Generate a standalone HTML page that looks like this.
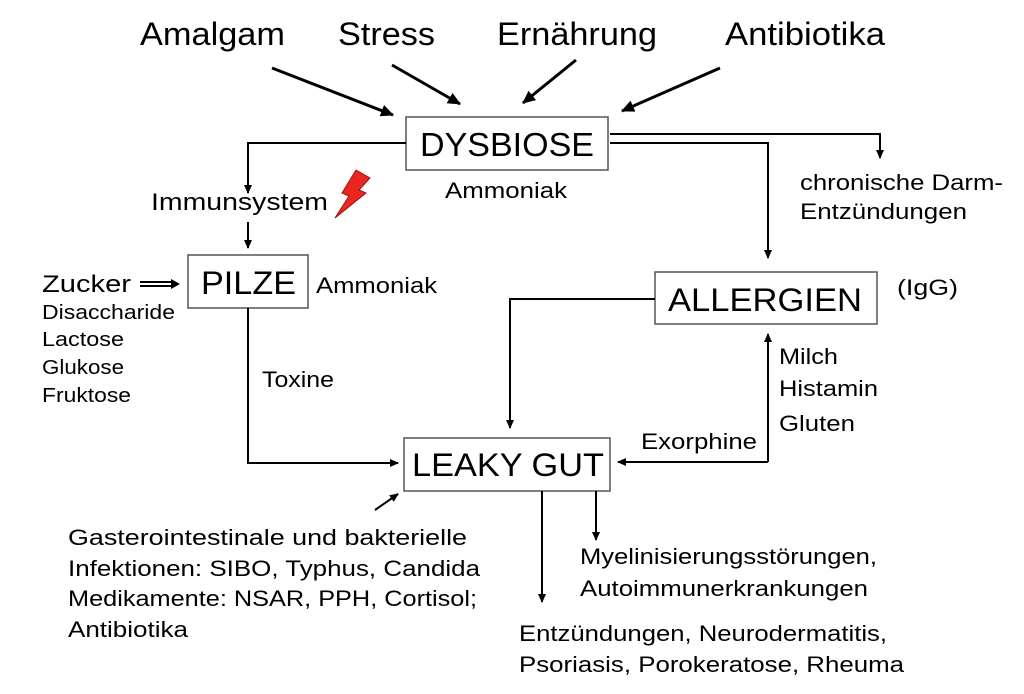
<!DOCTYPE html>
<html><head><meta charset="utf-8"><style>
html,body{margin:0;padding:0;background:#fff;}
svg{display:block;font-family:"Liberation Sans",Arial,sans-serif;}
</style></head><body>
<svg width="1024" height="694" viewBox="0 0 1024 694" xmlns="http://www.w3.org/2000/svg">
<defs>
<marker id="a" markerWidth="10" markerHeight="10" refX="8" refY="5" orient="auto" markerUnits="userSpaceOnUse">
<path d="M0,1 L9,5 L0,9 z" fill="#000"/></marker>
<marker id="b" markerWidth="14" markerHeight="14" refX="12" refY="7" orient="auto" markerUnits="userSpaceOnUse">
<path d="M0,1 L13,7 L0,13 z" fill="#000"/></marker>
</defs>
<g fill="#000" font-size="32" lengthAdjust="spacingAndGlyphs">
<text x="140" y="45" textLength="145" lengthAdjust="spacingAndGlyphs">Amalgam</text>
<text x="338" y="45" textLength="97" lengthAdjust="spacingAndGlyphs">Stress</text>
<text x="497" y="45" textLength="160" lengthAdjust="spacingAndGlyphs">Ernährung</text>
<text x="725" y="45" textLength="160" lengthAdjust="spacingAndGlyphs">Antibiotika</text>
</g>
<g stroke="#000" stroke-width="3" fill="none">
<line x1="272" y1="68" x2="393" y2="115" marker-end="url(#b)"/>
<line x1="392" y1="65" x2="460" y2="104" marker-end="url(#b)"/>
<line x1="576" y1="60" x2="523" y2="103" marker-end="url(#b)"/>
<line x1="720" y1="68" x2="622" y2="111" marker-end="url(#b)"/>
</g>
<g stroke="#555" stroke-width="1.5" fill="#fff">
<rect x="406" y="117" width="202" height="53"/>
<rect x="188" y="255" width="120" height="53"/>
<rect x="655" y="272" width="222" height="52"/>
<rect x="404" y="438" width="206" height="53"/>
</g>
<g fill="#000">
<text x="420" y="156" font-size="33" textLength="174" lengthAdjust="spacingAndGlyphs">DYSBIOSE</text>
<text x="201" y="294" font-size="32" textLength="95" lengthAdjust="spacingAndGlyphs">PILZE</text>
<text x="668" y="311" font-size="32" textLength="194" lengthAdjust="spacingAndGlyphs">ALLERGIEN</text>
<text x="412" y="476" font-size="32" textLength="192" lengthAdjust="spacingAndGlyphs">LEAKY GUT</text>
</g>
<g stroke="#000" stroke-width="2" fill="none">
<polyline points="406,143 248,143 248,193" marker-end="url(#a)"/>
<line x1="248" y1="222" x2="248" y2="248" marker-end="url(#a)"/>
<polyline points="248,308 248,463 398,463" marker-end="url(#a)"/>
<line x1="140" y1="282" x2="172" y2="282"/>
<line x1="140" y1="286" x2="172" y2="286"/>
<polyline points="610,134 880,134 880,158" marker-end="url(#a)"/>
<polyline points="610,143 768,143 768,258" marker-end="url(#a)"/>
<polyline points="655,299 510,299 510,428" marker-end="url(#a)"/>
<polyline points="768,462 768,334" marker-end="url(#a)"/>
<polyline points="768,462 618,462" marker-end="url(#a)"/>
<line x1="375" y1="510" x2="398" y2="494" marker-end="url(#a)"/>
<line x1="542" y1="491" x2="542" y2="602" marker-end="url(#a)"/>
<line x1="596" y1="491" x2="596" y2="540" marker-end="url(#a)"/>
</g>
<path d="M180,284 L171,279 L171,289 z" fill="#000"/>
<path d="M356,170 L370,178 L359,190 L366,193 L335,218 L349,196 L342,193 Z" fill="#e8281e" stroke="#a01010" stroke-width="1"/>
<g fill="#000" font-size="22">
<text x="445" y="198" textLength="122" lengthAdjust="spacingAndGlyphs">Ammoniak</text>
<text x="316" y="293" textLength="121" lengthAdjust="spacingAndGlyphs">Ammoniak</text>
<text x="262" y="387" textLength="72" lengthAdjust="spacingAndGlyphs">Toxine</text>
<text x="641" y="449" textLength="116" lengthAdjust="spacingAndGlyphs">Exorphine</text>
<text x="779" y="364" textLength="59" lengthAdjust="spacingAndGlyphs">Milch</text>
<text x="779" y="396" textLength="99" lengthAdjust="spacingAndGlyphs">Histamin</text>
<text x="779" y="431" textLength="76" lengthAdjust="spacingAndGlyphs">Gluten</text>
<text x="897" y="295" textLength="61" lengthAdjust="spacingAndGlyphs">(IgG)</text>
<text x="800" y="190" textLength="203" lengthAdjust="spacingAndGlyphs">chronische Darm-</text>
<text x="800" y="219" textLength="167" lengthAdjust="spacingAndGlyphs">Entzündungen</text>
<text x="68" y="545" textLength="399" lengthAdjust="spacingAndGlyphs">Gasterointestinale und bakterielle</text>
<text x="68" y="576" textLength="412" lengthAdjust="spacingAndGlyphs">Infektionen: SIBO, Typhus, Candida</text>
<text x="68" y="606" textLength="409" lengthAdjust="spacingAndGlyphs">Medikamente: NSAR, PPH, Cortisol;</text>
<text x="68" y="637" textLength="120" lengthAdjust="spacingAndGlyphs">Antibiotika</text>
<text x="580" y="564" textLength="297" lengthAdjust="spacingAndGlyphs">Myelinisierungsstörungen,</text>
<text x="580" y="596" textLength="288" lengthAdjust="spacingAndGlyphs">Autoimmunerkrankungen</text>
<text x="519" y="641" textLength="368" lengthAdjust="spacingAndGlyphs">Entzündungen, Neurodermatitis,</text>
<text x="519" y="672" textLength="385" lengthAdjust="spacingAndGlyphs">Psoriasis, Porokeratose, Rheuma</text>
</g>
<text x="151" y="210" font-size="24" textLength="177" lengthAdjust="spacingAndGlyphs">Immunsystem</text>
<text x="42" y="292" font-size="24" textLength="89" lengthAdjust="spacingAndGlyphs">Zucker</text>
<g fill="#000" font-size="20">
<text x="42" y="319" textLength="133" lengthAdjust="spacingAndGlyphs">Disaccharide</text>
<text x="42" y="346" textLength="82" lengthAdjust="spacingAndGlyphs">Lactose</text>
<text x="42" y="374" textLength="82" lengthAdjust="spacingAndGlyphs">Glukose</text>
<text x="42" y="402" textLength="89" lengthAdjust="spacingAndGlyphs">Fruktose</text>
</g>
</svg>
</body></html>
